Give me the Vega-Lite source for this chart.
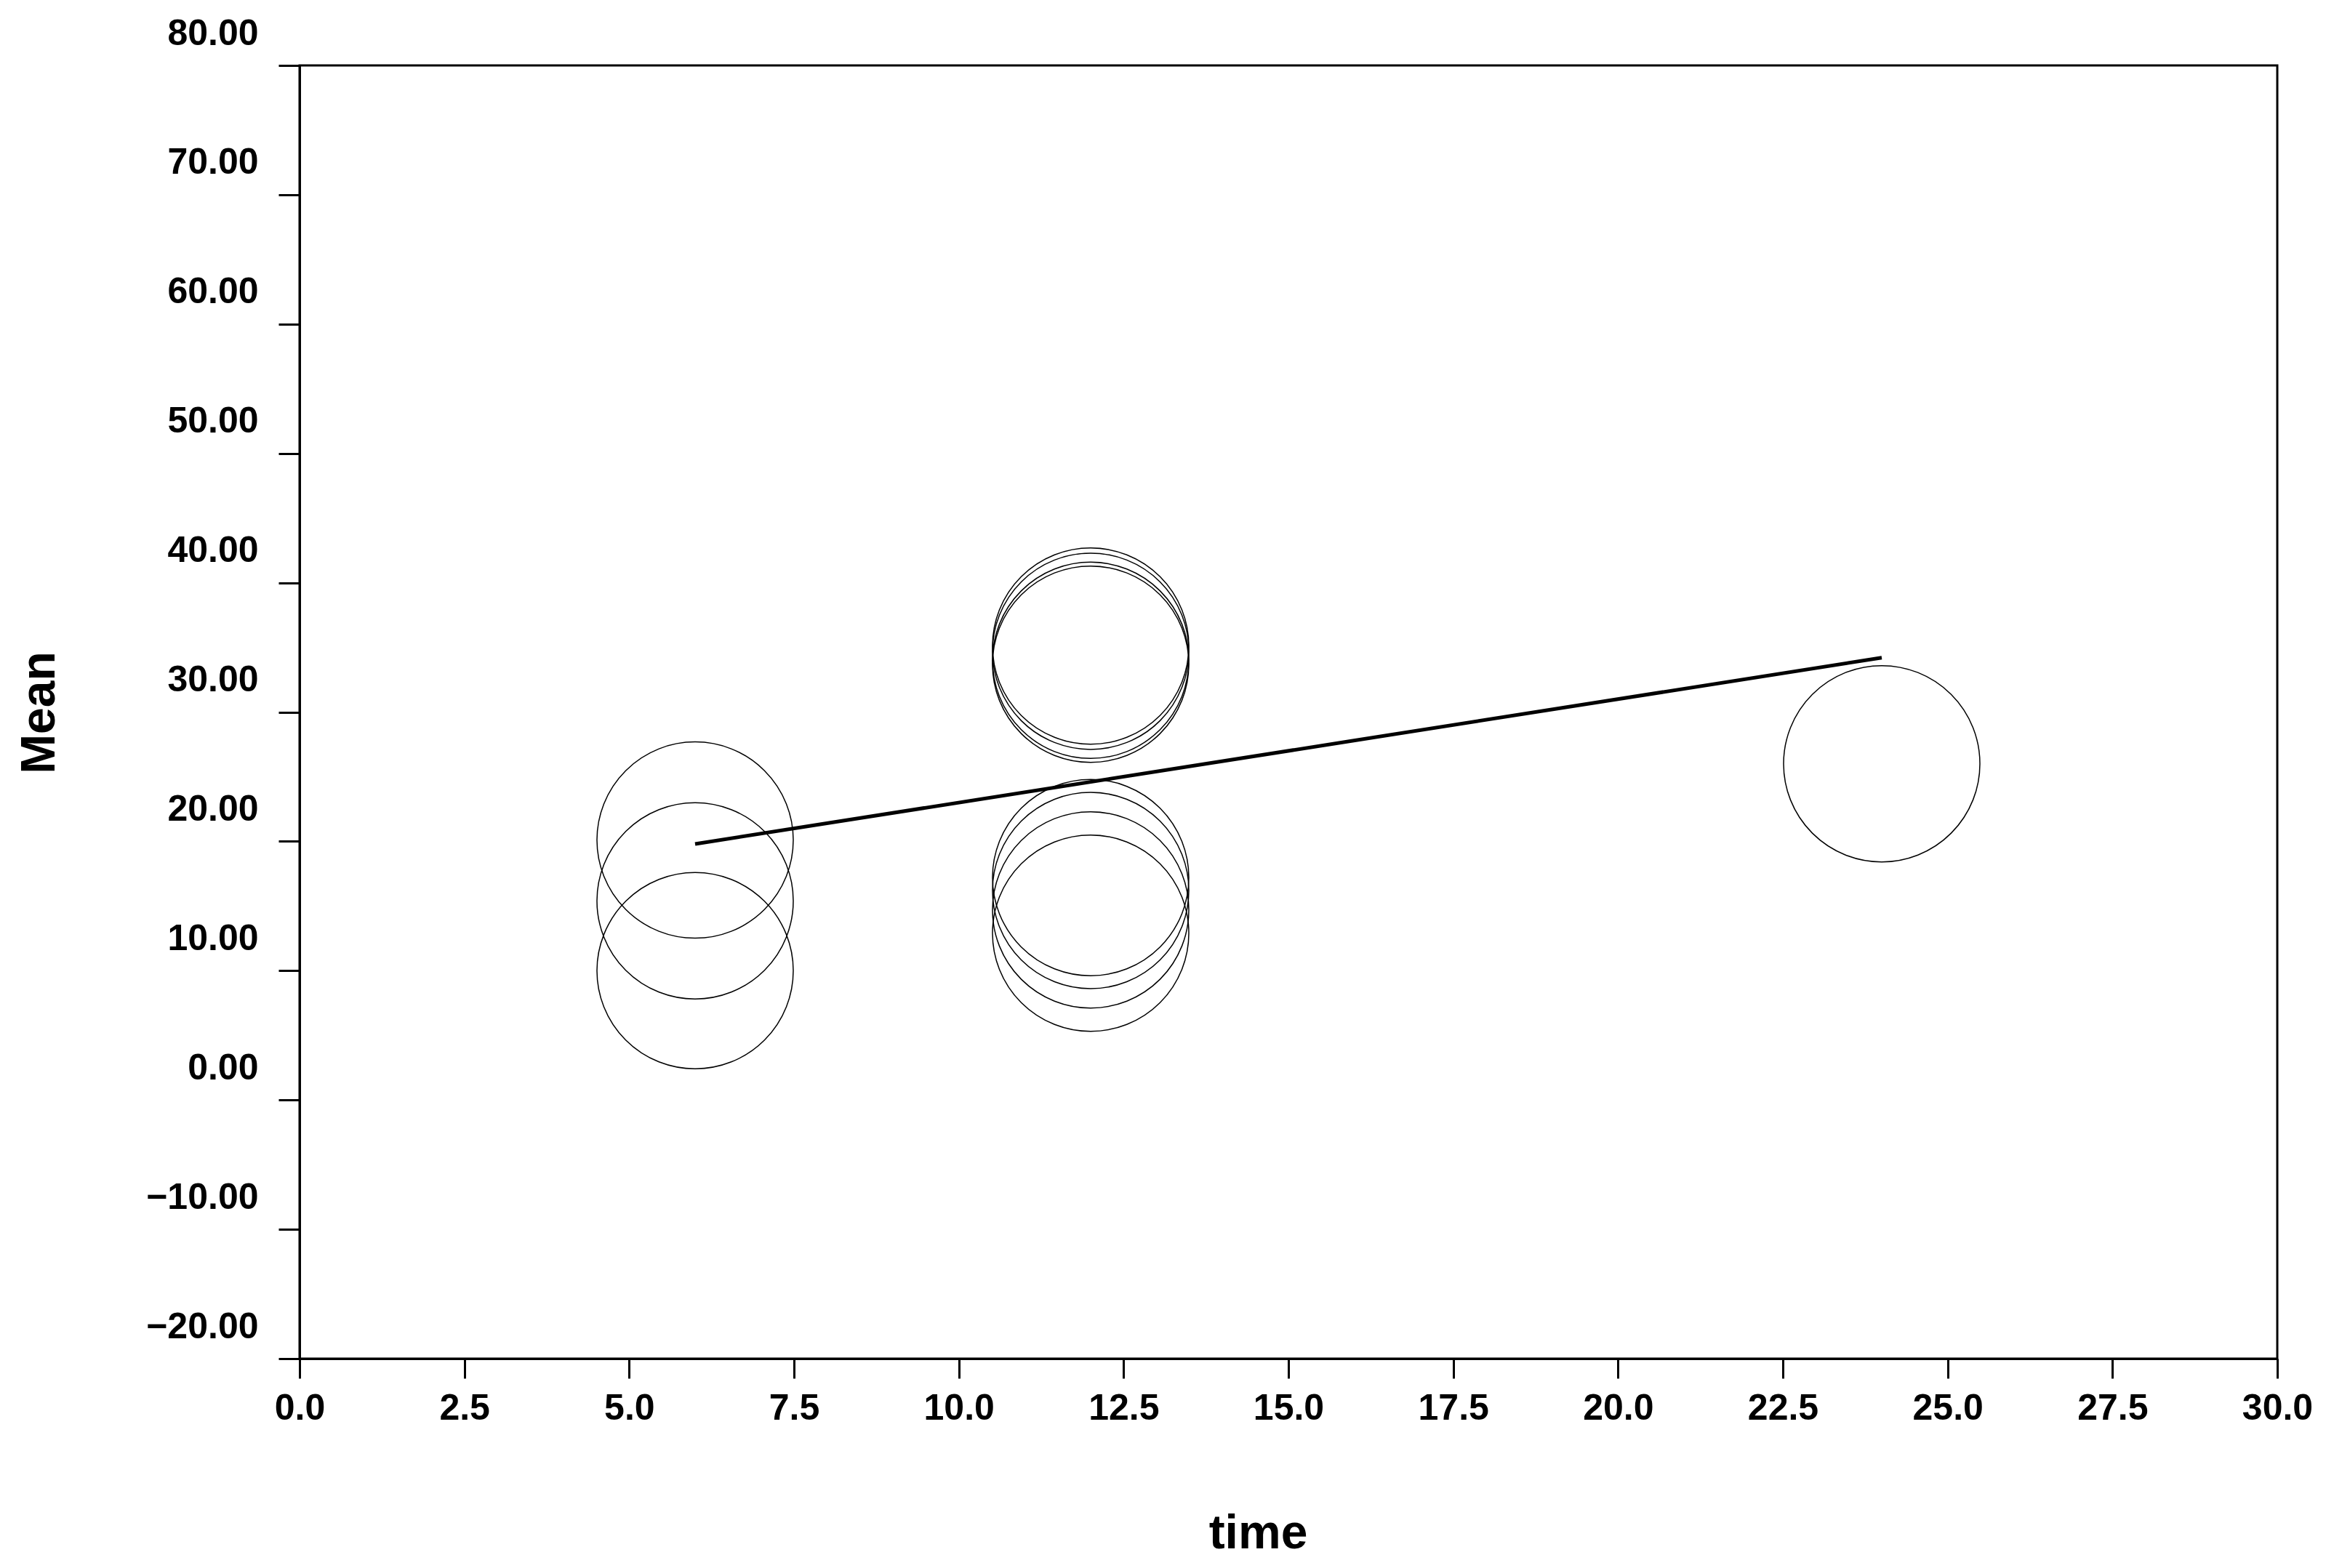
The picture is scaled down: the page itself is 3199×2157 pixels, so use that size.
{
  "$schema": "https://vega.github.io/schema/vega-lite/v6.json",
  "width": 2720,
  "height": 1779,
  "autosize": {"type": "none"},
  "padding": {"left": 412, "top": 90, "right": 67, "bottom": 288},
  "background": "white",
  "config": {
    "view": {"stroke": "black", "strokeWidth": 3},
    "axis": {
      "grid": false,
      "domainColor": "black",
      "domainWidth": 3,
      "tickColor": "black",
      "tickWidth": 3,
      "labelColor": "black",
      "labelFont": "Liberation Sans",
      "labelFontWeight": "bold",
      "labelFontSize": 50,
      "labelOverlap": false,
      "labelFlush": false,
      "labelBound": false,
      "titleColor": "black",
      "titleFont": "Liberation Sans",
      "titleFontWeight": "bold",
      "titleFontSize": 66
    }
  },
  "datasets": {
    "points": [
      {"time": 6, "Mean": 20.1},
      {"time": 6, "Mean": 15.4},
      {"time": 6, "Mean": 10.0},
      {"time": 12, "Mean": 35.1},
      {"time": 12, "Mean": 34.7},
      {"time": 12, "Mean": 34.0},
      {"time": 12, "Mean": 33.7},
      {"time": 12, "Mean": 17.2},
      {"time": 12, "Mean": 16.2},
      {"time": 12, "Mean": 14.7},
      {"time": 12, "Mean": 12.9},
      {"time": 24, "Mean": 26.0}
    ],
    "fit": [
      {"time": 6, "Mean": 19.8},
      {"time": 24, "Mean": 34.2}
    ]
  },
  "encoding": {
    "x": {
      "field": "time",
      "type": "quantitative",
      "scale": {"domain": [0, 30], "nice": false, "zero": false},
      "axis": {
        "title": "time",
        "values": [0, 2.5, 5, 7.5, 10, 12.5, 15, 17.5, 20, 22.5, 25, 27.5, 30],
        "format": ".1f",
        "tickSize": 27,
        "labelPadding": 16,
        "titleX": 1318,
        "titleY": 260,
        "titleAnchor": null,
        "titleAlign": "center",
        "titleBaseline": "alphabetic"
      }
    },
    "y": {
      "field": "Mean",
      "type": "quantitative",
      "scale": {"domain": [-20, 80], "nice": false, "zero": false},
      "axis": {
        "title": "Mean",
        "values": [-20, -10, 0, 10, 20, 30, 40, 50, 60, 70, 80],
        "format": ".2f",
        "tickSize": 29,
        "labelPadding": 28,
        "labelOffset": -44,
        "titleX": -338,
        "titleY": 890,
        "titleAngle": 270,
        "titleAlign": "center",
        "titleBaseline": "alphabetic"
      }
    }
  },
  "layer": [
    {
      "data": {"name": "points"},
      "mark": {"type": "point", "shape": "circle", "filled": false, "color": "black", "stroke": "black", "strokeWidth": 1.5, "size": 72900, "opacity": 1}
    },
    {
      "data": {"name": "fit"},
      "mark": {"type": "line", "color": "black", "strokeWidth": 5}
    }
  ]
}
